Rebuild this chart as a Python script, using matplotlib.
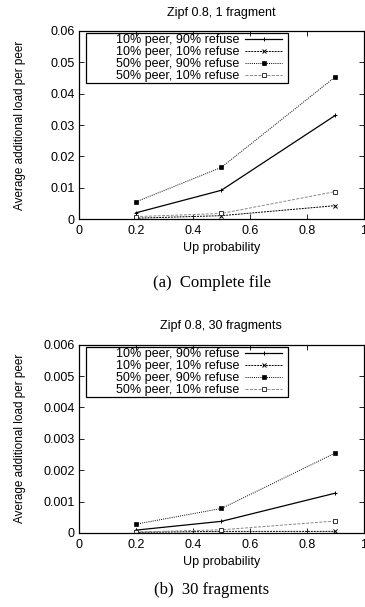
import matplotlib
matplotlib.use("Agg")
import matplotlib.pyplot as plt
from matplotlib.patches import Rectangle
from matplotlib.ticker import FuncFormatter

plt.rcParams['font.family'] = ['Liberation Sans', 'DejaVu Sans']

up_prob = [0.2, 0.5, 0.9]
labels = ["10% peer, 90% refuse", "10% peer, 10% refuse",
          "50% peer, 90% refuse", "50% peer, 10% refuse"]

# (a) complete file
full_p10_r90 = [0.0020, 0.0092, 0.0331]
full_p10_r10 = [0.0003, 0.0011, 0.0043]
full_p50_r90 = [0.0055, 0.0165, 0.0454]
full_p50_r10 = [0.0008, 0.0018, 0.0088]

# (b) 30 fragments
frag_p10_r90 = [0.00009, 0.00037, 0.00127]
frag_p10_r10 = [0.00002, 0.00005, 0.00005]
frag_p50_r90 = [0.00028, 0.00078, 0.00255]
frag_p50_r10 = [0.00003, 0.00010, 0.00038]

styles = [
    dict(color='black', ls='-', marker='+', ms=3.5, mew=0.7, lw=0.9),
    dict(color='black', ls=(0, (2, 1)), marker='x', ms=2.5, mew=0.7, lw=0.7),
    dict(color='black', ls=(0, (1, 1.2)), marker='s', ms=2.5, mew=0.5, lw=0.7),
    dict(color='#888888', ls=(0, (3, 1.5)), marker='s', ms=3, mfc='white',
         mec='#333333', mew=0.7, lw=0.7),
]

fig = plt.figure(figsize=(3.65, 6.07), dpi=100)


def panel(rect, series, ymax, ystep, title, caption, cap_y):
    ax = fig.add_axes(rect)
    for vals, lab, st in zip(series, labels, styles):
        ax.plot(up_prob, vals, label=lab, **st)
    ax.set_xlim(0, 1)
    ax.set_ylim(0, ymax)
    ax.set_xticks([0, 0.2, 0.4, 0.6, 0.8, 1])
    ax.set_yticks([ystep * i for i in range(7)])
    ax.xaxis.set_major_formatter(FuncFormatter(lambda v, p: '%g' % round(v, 4)))
    ax.yaxis.set_major_formatter(FuncFormatter(lambda v, p: '%g' % round(v, 6)))
    ax.tick_params(direction='in', top=True, right=True, labelsize=9,
                   length=3.5, width=0.6)
    ax.tick_params(axis='x', pad=4)
    ax.tick_params(axis='y', pad=3)
    for s in ax.spines.values():
        s.set_linewidth(0.9)
    ax.set_title(title, fontsize=9, pad=11)
    ax.set_xlabel("Up probability", fontsize=9, labelpad=4)
    ax.set_ylabel("Average additional load per peer", fontsize=8.5)
    ax.yaxis.set_label_coords(-0.186, 0.5)
    ax.legend(loc='upper right', bbox_to_anchor=(0.716, 0.99),
              markerfirst=False, fontsize=9, handlelength=2.9,
              labelspacing=0.0, borderpad=0.1, handletextpad=0.5,
              frameon=False, borderaxespad=0)
    ax.add_patch(Rectangle((0.025, 0.723), 0.708, 0.266, transform=ax.transAxes,
                           fill=False, ec='black', lw=0.9, zorder=5))
    fig.text(0.58, cap_y, caption, ha='center', va='center',
             fontsize=12, family='Liberation Serif')
    return ax


panel([0.216, 0.639, 0.781, 0.310],
      [full_p10_r90, full_p10_r10, full_p50_r90, full_p50_r10],
      0.06, 0.01, "Zipf 0.8, 1 fragment", "(a)  Complete file", 0.534)
panel([0.216, 0.122, 0.781, 0.310],
      [frag_p10_r90, frag_p10_r10, frag_p50_r90, frag_p50_r10],
      0.006, 0.001, "Zipf 0.8, 30 fragments", "(b)  30 fragments", 0.028)

fig.savefig("out.png", dpi=100)
